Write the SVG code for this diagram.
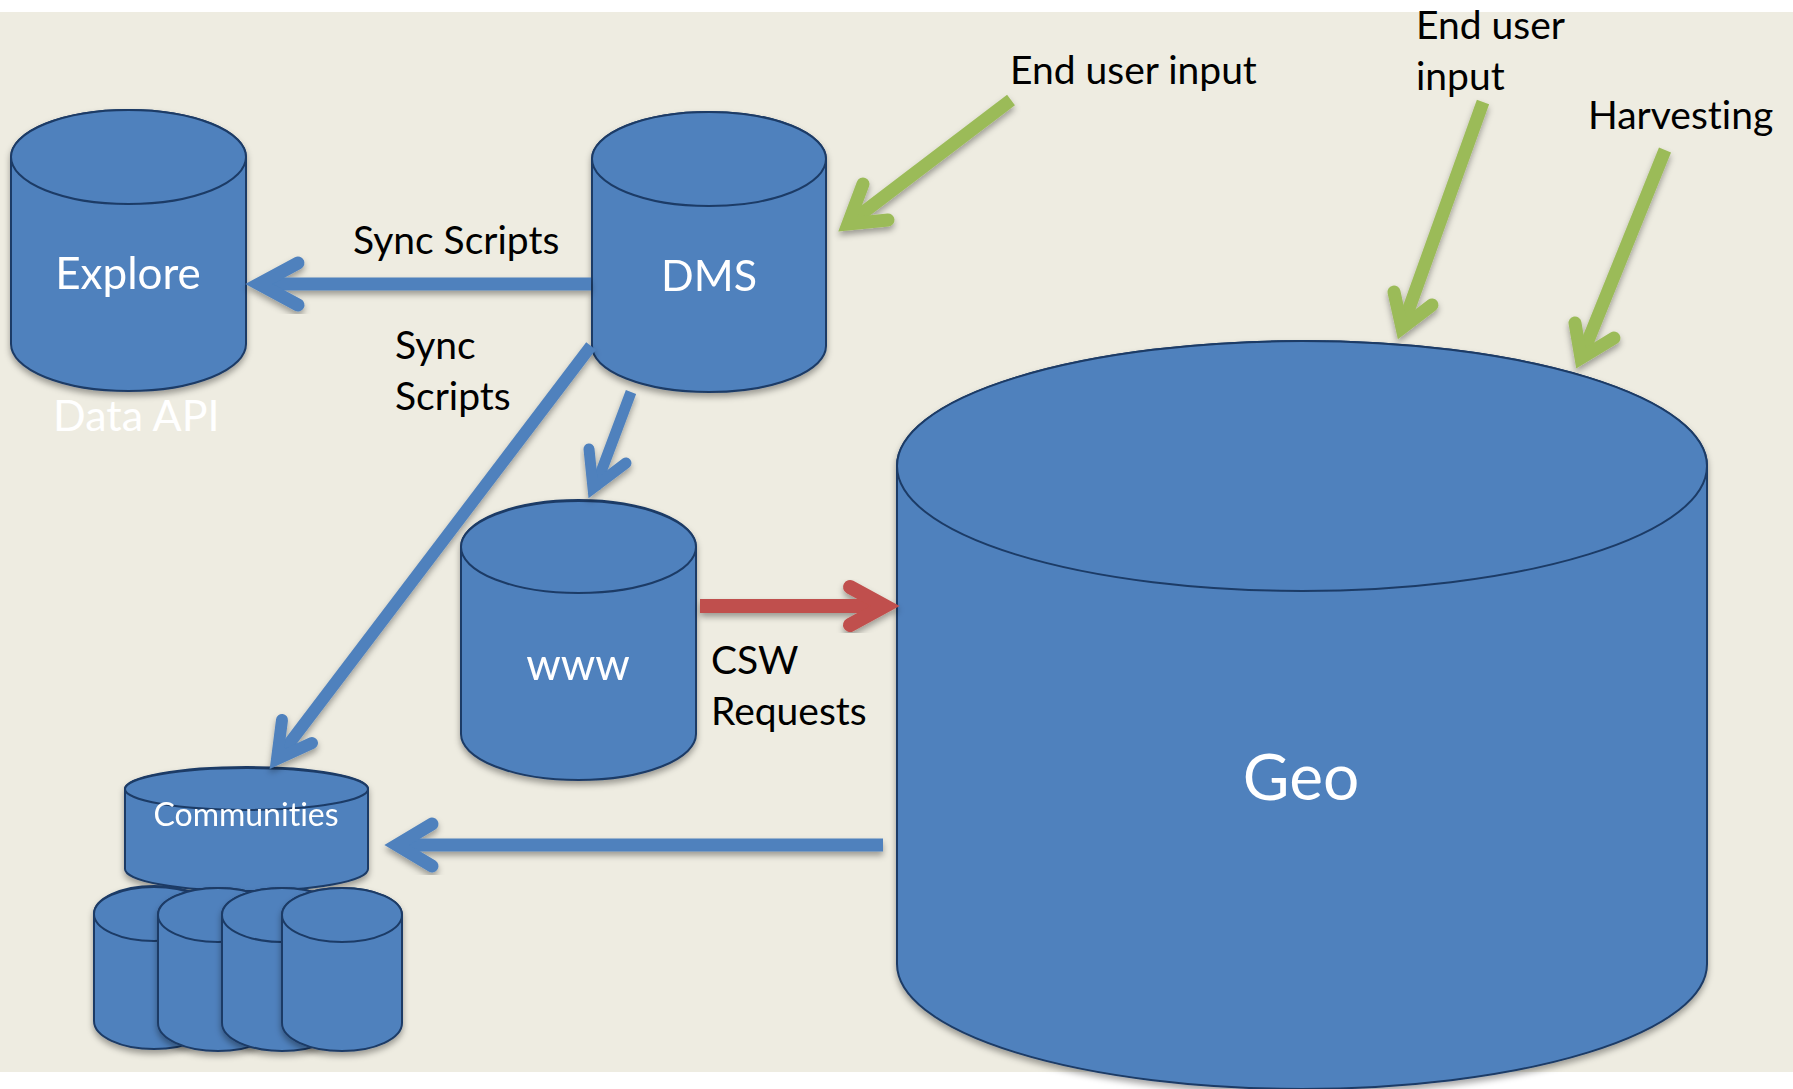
<svg xmlns="http://www.w3.org/2000/svg" width="1793" height="1089" viewBox="0 0 1793 1089">
<defs>
<filter id="sh" x="-20%" y="-20%" width="140%" height="140%"><feDropShadow dx="0" dy="4" stdDeviation="3" flood-color="#000" flood-opacity="0.35"/></filter>
</defs>
<style>
.cyl{fill:#4f81bd;stroke:#1c3b66;stroke-width:2}
.cg{filter:url(#sh)}
.ar{fill:none;stroke-linecap:round;stroke-linejoin:miter;stroke-miterlimit:10;filter:url(#sh)}
.sh{stroke-linecap:butt}
.b{stroke:#4f81bd}.g{stroke:#9bbb59}.r{stroke:#c0504d}
text{font-family:"Lato","Carlito","Liberation Sans",sans-serif;font-variant-ligatures:none}
.k{font-size:39px;fill:#000}
.w{fill:#fff;text-anchor:middle}
</style>
<rect width="1793" height="1089" fill="#fff"/>
<rect y="12" width="1793" height="1060" fill="#eeece1"/>
<g id="node-explore" class="cg">
<path class="cyl" d="M11 157V344A117.500 47 0 0 0 246 344V157A117.500 47 0 0 0 11 157Z"/>
<ellipse class="cyl" cx="128.500" cy="157" rx="117.500" ry="47"/>
<text class="w" x="128" y="289" font-size="44">Explore</text>
</g>
<text id="label-data-api" x="53" y="431" font-size="43" fill="#fff">Data API</text>
<g id="node-dms" class="cg">
<path class="cyl" d="M592 159V346A117 46 0 0 0 826 346V159A117 47 0 0 0 592 159Z"/>
<ellipse class="cyl" cx="709" cy="159" rx="117" ry="47"/>
<text class="w" x="709" y="291" font-size="43">DMS</text>
</g>
<g id="node-www" class="cg">
<path class="cyl" d="M461 547V734A117.500 46 0 0 0 696 734V547A117.500 47 0 0 0 461 547Z"/>
<ellipse class="cyl" cx="578.500" cy="547" rx="117.500" ry="46"/>
<text class="w" x="578" y="680" font-size="44">www</text>
</g>
<g id="node-geo" class="cg">
<path class="cyl" d="M897 466V964A405 125 0 0 0 1707 964V466A405 125 0 0 0 897 466Z"/>
<ellipse class="cyl" cx="1302" cy="466" rx="405" ry="125"/>
<text class="w" x="1301" y="800" font-size="64">Geo</text>
</g>
<g id="node-communities" class="cg">
<path class="cyl" d="M125 789V869A121.500 22 0 0 0 368 869V789A121.500 22 0 0 0 125 789Z"/>
<ellipse class="cyl" cx="246.500" cy="789" rx="121.500" ry="21"/>
<text class="w" x="246" y="826" font-size="32">Communities</text>
</g>
<g id="node-community-1" class="cg">
<path class="cyl" d="M94 914V1021A60 28 0 0 0 214 1021V914A60 28 0 0 0 94 914Z"/>
<ellipse class="cyl" cx="154" cy="914" rx="60" ry="27"/>
</g>
<g id="node-community-2" class="cg">
<path class="cyl" d="M158 915V1023A60 28 0 0 0 278 1023V915A60 27 0 0 0 158 915Z"/>
<ellipse class="cyl" cx="218" cy="915" rx="60" ry="27"/>
</g>
<g id="node-community-3" class="cg">
<path class="cyl" d="M222 915V1023A60 28 0 0 0 342 1023V915A60 27 0 0 0 222 915Z"/>
<ellipse class="cyl" cx="282" cy="915" rx="60" ry="27"/>
</g>
<g id="node-community-4" class="cg">
<path class="cyl" d="M282 915V1023A60 28 0 0 0 402 1023V915A60 27 0 0 0 282 915Z"/>
<ellipse class="cyl" cx="342" cy="915" rx="60" ry="27"/>
</g>
<g id="connectors">
<g class="ar b" stroke-width="13"><path class="sh" d="M591 284H262"/><path d="M298 263L259 284L298 305"/></g>
<g class="ar b" stroke-width="12"><path class="sh" d="M591 346L279 757"/><path d="M282 720L277 759L312 743"/></g>
<g class="ar b" stroke-width="11"><path class="sh" d="M631 392L595 488"/><path d="M589 449L593 488L626 463"/></g>
<g class="ar r" stroke-width="14"><path class="sh" d="M700 606H885"/><path d="M850 587L885 606L850 625"/></g>
<g class="ar b" stroke-width="13"><path class="sh" d="M883 845H398"/><path d="M432 824L397 845L432 866"/></g>
<g class="ar g" stroke-width="13"><path class="sh" d="M1011 100L848 224"/><path d="M863 184L848 224L888 220"/></g>
<g class="ar g" stroke-width="13"><path class="sh" d="M1483 102L1402 328"/><path d="M1394 292L1402 328L1432 305"/></g>
<g class="ar g" stroke-width="13"><path class="sh" d="M1665 150L1581 358"/><path d="M1575 323L1581 358L1614 338"/></g>
</g>
<text class="k" x="353" y="254">Sync Scripts</text>
<text class="k" x="395" y="359">Sync</text>
<text class="k" x="395" y="410">Scripts</text>
<text class="k" x="711" y="674">CSW</text>
<text class="k" x="711" y="725">Requests</text>
<text class="k" x="1010" y="84" font-size="40">End user input</text>
<text class="k" x="1416" y="39">End user</text>
<text class="k" x="1416" y="90">input</text>
<text class="k" x="1588" y="129">Harvesting</text>
</svg>
